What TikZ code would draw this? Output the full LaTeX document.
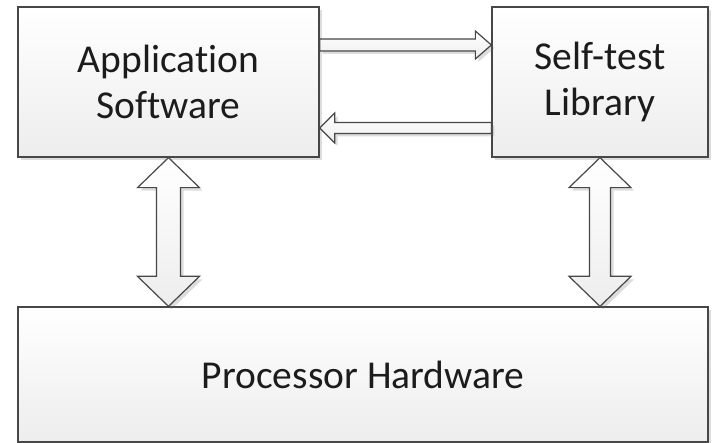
\documentclass[tikz,border=0pt]{standalone}
\usepackage{fontspec}
\setmainfont{Carlito}[Ligatures={NoCommon}]
\usetikzlibrary{calc,shadows}

\definecolor{edge}{HTML}{474747}
\definecolor{ink}{HTML}{1C1C1C}
\definecolor{fillbot}{HTML}{EDEDED}

\tikzset{
  softshadow/.style={drop shadow={shadow xshift=3pt, shadow yshift=-3pt, opacity=0.22, fill=black!60}},
  blockbox/.style={draw=edge, line width=1.3pt, top color=white, bottom color=fillbot,
    softshadow, text=ink, align=center, inner sep=0pt,
    font=\fontsize{39.5}{46}\selectfont},
  fatarrow/.style={draw=edge, line width=1.2pt, top color=white, bottom color=fillbot,
    softshadow, line join=miter},
}

\begin{document}
\begin{tikzpicture}[x=1pt,y=-1pt]
  \useasboundingbox[fill=white] (0,0) rectangle (714,443);

  % blocks
  \node[blockbox, minimum width=301pt, minimum height=150pt] (app) at (168.5,82) {Application\\Software};
  \node[blockbox, minimum width=216pt, minimum height=150pt] (lib) at (600,82) {Self-test\\Library};
  \node[blockbox, minimum width=690pt, minimum height=135pt] (hw) at (363,374.5) {Processor Hardware};

  % request arrow: application -> library
  \coordinate (ra) at (app.east |- 0,45);
  \coordinate (rb) at (lib.west |- 0,45);
  \draw[fatarrow] ($(ra)+(0,-6)$) -- ($(rb)+(-16,-6)$) -- ($(rb)+(-16,-14)$) -- (rb)
    -- ($(rb)+(-16,14)$) -- ($(rb)+(-16,6)$) -- ($(ra)+(0,6)$) -- cycle;

  % result arrow: library -> application
  \coordinate (la) at (lib.west |- 0,128);
  \coordinate (lb) at (app.east |- 0,128);
  \draw[fatarrow] ($(la)+(0,-5.5)$) -- ($(lb)+(15,-5.5)$) -- ($(lb)+(15,-15)$) -- (lb)
    -- ($(lb)+(15,15)$) -- ($(lb)+(15,5.5)$) -- ($(la)+(0,5.5)$) -- cycle;

  % two-way links down to the hardware
  \coordinate (au) at (app.south);
  \coordinate (ad) at (hw.north -| app.south);
  \draw[fatarrow] (au) -- ($(au)+(31,30)$) -- ($(au)+(12,30)$) -- ($(ad)+(12,-30)$)
    -- ($(ad)+(31,-30)$) -- (ad) -- ($(ad)+(-31,-30)$) -- ($(ad)+(-12,-30)$)
    -- ($(au)+(-12,30)$) -- ($(au)+(-31,30)$) -- cycle;

  \coordinate (bu) at (lib.south);
  \coordinate (bd) at (hw.north -| lib.south);
  \draw[fatarrow] (bu) -- ($(bu)+(31,30)$) -- ($(bu)+(10.5,30)$) -- ($(bd)+(10.5,-30)$)
    -- ($(bd)+(31,-30)$) -- (bd) -- ($(bd)+(-31,-30)$) -- ($(bd)+(-10.5,-30)$)
    -- ($(bu)+(-10.5,30)$) -- ($(bu)+(-31,30)$) -- cycle;
\end{tikzpicture}
\end{document}
